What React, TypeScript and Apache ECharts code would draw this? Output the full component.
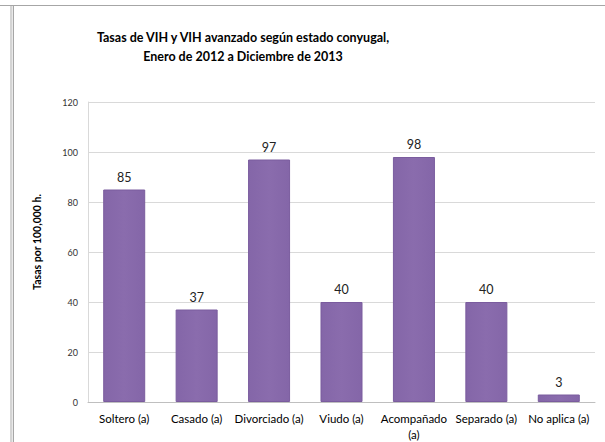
import React, { useEffect, useRef } from "react";
import * as echarts from "echarts";

const titleLines = [
  "Tasas de VIH y VIH avanzado según estado conyugal,",
  "Enero de 2012 a Diciembre de 2013",
];
const categories = [
  "Soltero (a)",
  "Casado (a)",
  "Divorciado (a)",
  "Viudo (a)",
  "Acompañado\n(a)",
  "Separado (a)",
  "No aplica (a)",
];
const rates = [85, 37, 97, 40, 98, 40, 3];
const yAxisName = "Tasas por 100,000 h.";
const yMin = 0;
const yMax = 120;
const yInterval = 20;

const FONT = "Lato, 'Liberation Sans', sans-serif";

export default function App() {
  const ref = useRef<HTMLDivElement>(null);
  useEffect(() => {
    if (!ref.current) return;
    const chart = echarts.init(ref.current, undefined, { renderer: "svg" });
    chart.setOption({
      animation: false,
      backgroundColor: "#ffffff",
      textStyle: { fontFamily: FONT },
      title: {
        text: titleLines.join("\n"),
        left: 238,
        top: 23,
        textAlign: "center",
        textStyle: {
          fontFamily: FONT,
          fontSize: 12.5,
          fontWeight: "bold",
          color: "#000000",
          lineHeight: 19,
        },
      },
      graphic: [
        { type: "line", shape: { x1: 0, y1: 5.5, x2: 605, y2: 5.5 }, style: { stroke: "#a6a6a6", lineWidth: 1 } },
        { type: "rect", shape: { x: 10, y: 6, width: 2.5, height: 436 }, style: { fill: "#d4d4d4" } },
        { type: "line", shape: { x1: 13.5, y1: 5, x2: 13.5, y2: 442 }, style: { stroke: "#a6a6a6", lineWidth: 1 } },
        {
          type: "text",
          x: 37,
          y: 242,
          rotation: Math.PI / 2,
          style: {
            text: yAxisName,
            fontFamily: FONT,
            fontSize: 10.5,
            fontWeight: "bold",
            fill: "#000000",
            align: "center",
            verticalAlign: "middle",
          },
        },
      ],
      grid: { left: 88, right: 10, top: 102, bottom: 40 },
      xAxis: {
        type: "category",
        data: categories,
        axisLine: { lineStyle: { color: "#bfbfbf" } },
        axisTick: { show: false },
        axisLabel: {
          color: "#000000",
          fontSize: 11.5,
          fontFamily: FONT,
          margin: 8,
          interval: 0,
          lineHeight: 16,
        },
      },
      yAxis: {
        type: "value",
        min: yMin,
        max: yMax,
        interval: yInterval,
        axisLine: { show: true, lineStyle: { color: "#d9d9d9" } },
        axisTick: { show: false },
        splitLine: { lineStyle: { color: "#d9d9d9" } },
        axisLabel: { color: "#333333", fontSize: 9, fontFamily: FONT, margin: 10 },
      },
      series: [
        {
          type: "bar",
          data: rates,
          barWidth: "58%",
          itemStyle: {
            color: {
              type: "linear",
              x: 0,
              y: 0,
              x2: 1,
              y2: 0,
              colorStops: [
                { offset: 0, color: "#8466a8" },
                { offset: 0.5, color: "#8a6cad" },
                { offset: 1, color: "#8466a8" },
              ],
            },
            borderColor: "#7a5c9e",
            borderWidth: 1,
          },
          label: {
            show: true,
            position: "top",
            distance: 6,
            color: "#222222",
            fontSize: 12.5,
            fontFamily: FONT,
          },
        },
      ],
    });
    return () => chart.dispose();
  }, []);
  return (
    <div
      ref={ref}
      style={{ position: "fixed", left: 0, top: 0, width: 605, height: 442 }}
    />
  );
}
